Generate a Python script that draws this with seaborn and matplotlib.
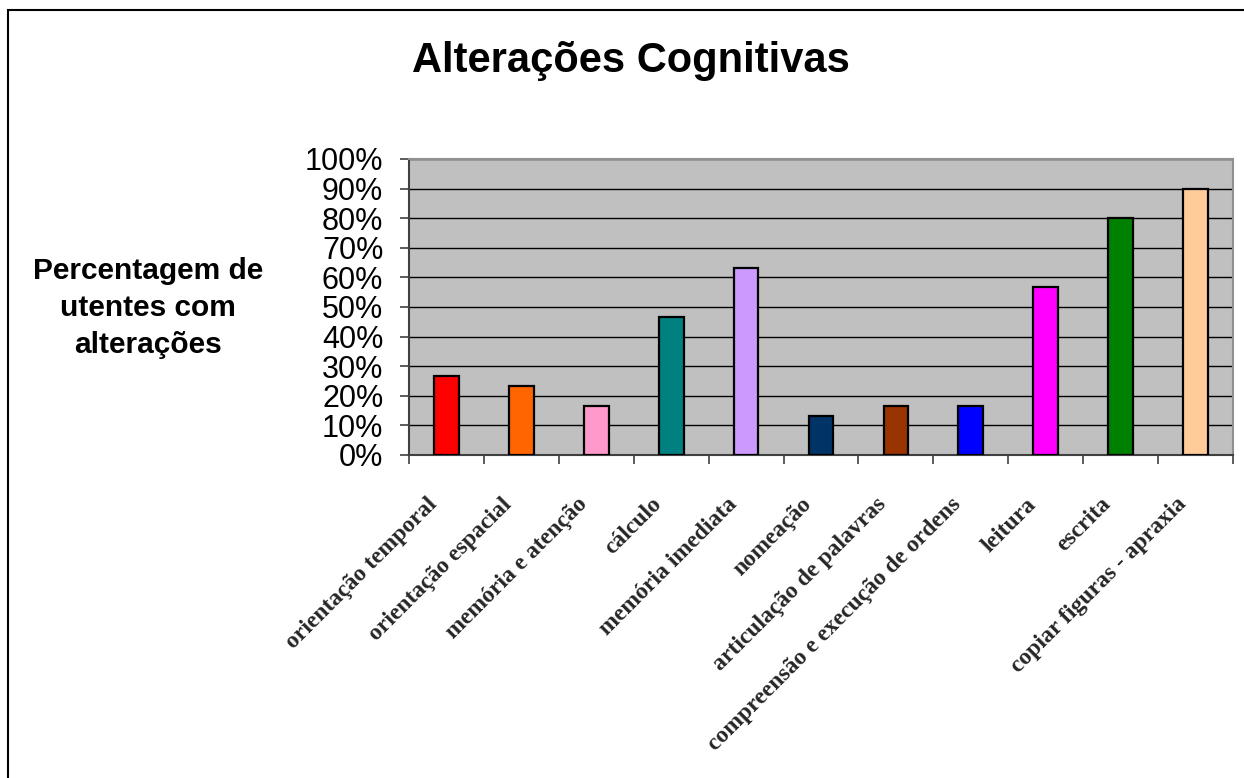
import matplotlib
matplotlib.use("Agg")
import matplotlib.pyplot as plt
import matplotlib.transforms as mtransforms
from matplotlib.patches import Rectangle
from matplotlib.ticker import FixedLocator, FuncFormatter
import seaborn as sns
import pandas as pd

categories = [
    "orientação temporal",
    "orientação espacial",
    "memória e atenção",
    "cálculo",
    "memória imediata",
    "nomeação",
    "articulação de palavras",
    "compreensão e execução de ordens",
    "leitura",
    "escrita",
    "copiar figuras - apraxia",
]
values = [26.7, 23.3, 16.7, 46.7, 63.3, 13.3, 16.7, 16.7, 56.7, 80.0, 90.0]
colors = ["#FF0000", "#FF6600", "#FF99CC", "#008080", "#CC99FF", "#003366",
          "#993300", "#0000FF", "#FF00FF", "#008000", "#FFCC99"]
y_ticks = [0, 10, 20, 30, 40, 50, 60, 70, 80, 90, 100]
title = "Alterações Cognitivas"
y_label = "Percentagem de\nutentes com\nalterações"

sns.set_theme(style="white")
plt.rcParams["font.family"] = ["Liberation Sans", "DejaVu Sans"]

W, H = 1244, 778
fig = plt.figure(figsize=(W / 100, H / 100), dpi=100)
fig.patch.set_facecolor("white")

left, right, top, bottom = 409, 1233, 159, 455
ax = fig.add_axes([left / W, 1 - bottom / H, (right - left) / W, (bottom - top) / H])
ax.set_facecolor("#C0C0C0")

df = pd.DataFrame({"cat": categories, "val": values})
sns.barplot(data=df, x="cat", y="val", hue="cat", palette=colors, legend=False,
            saturation=1, width=0.33, edgecolor="black", linewidth=1.6,
            ax=ax, zorder=3)

ax.set_xlim(-0.5, len(categories) - 0.5)
ax.set_ylim(0, 100)
ax.set_yticks(y_ticks)
ax.yaxis.set_major_formatter(FuncFormatter(lambda v, p: f"{int(v)}%"))
ax.grid(axis="y", color="black", linewidth=1.0, zorder=1)
ax.set_axisbelow(True)
ax.set_xlabel("")
ax.set_ylabel("")

for s in ["left", "bottom"]:
    ax.spines[s].set_color("#404040")
    ax.spines[s].set_linewidth(1.5)
for s in ["top", "right"]:
    ax.spines[s].set_color("#909090")
    ax.spines[s].set_linewidth(1.5)

ax.tick_params(axis="y", which="major", left=True, length=6.5, width=1.2,
               color="#404040", pad=12, labelsize=22, labelcolor="black")

ax.xaxis.set_minor_locator(FixedLocator([i - 0.5 for i in range(len(categories) + 1)]))
ax.tick_params(axis="x", which="minor", bottom=True, length=6.5, width=1.2, color="#404040")
ax.tick_params(axis="x", which="major", bottom=False, length=0, pad=28)
ax.set_xticks(range(len(categories)))
ax.set_xticklabels(categories, rotation=45, ha="right", rotation_mode="anchor",
                   fontsize=17, fontweight="bold",
                   family=["Liberation Serif", "DejaVu Serif"])
offset = mtransforms.ScaledTranslation(-20 / 100, 0, fig.dpi_scale_trans)
for t in ax.get_xticklabels():
    t.set_transform(t.get_transform() + offset)

fig.text(631 / W, 1 - 61 / H, title, ha="center", va="center",
         fontsize=30, fontweight="bold", color="black")
fig.text(148 / W, 1 - 308 / H, y_label, ha="center", va="center",
         fontsize=21.5, fontweight="bold", color="black", linespacing=1.42)

fig.add_artist(Rectangle((8 / W, -0.1), 1.2, 1 - 10 / H + 0.1,
                         transform=fig.transFigure, fill=False,
                         edgecolor="black", linewidth=1.5))

fig.savefig("out.png", dpi=100, facecolor="white")
